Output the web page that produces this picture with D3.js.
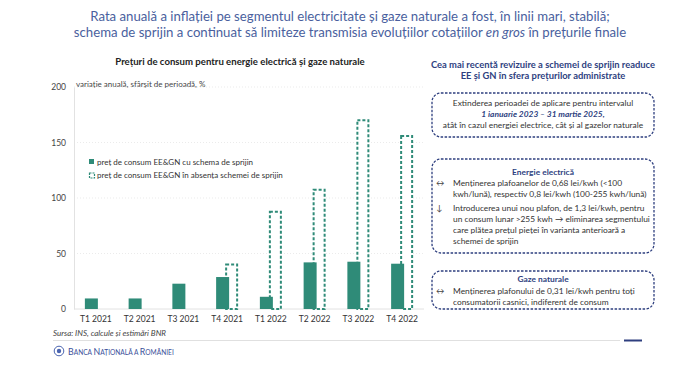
<!DOCTYPE html>
<html><head><meta charset="utf-8">
<script src="https://cdn.jsdelivr.net/npm/d3@7"></script>
<style>body{margin:0;background:#fff}svg{display:block}text{font-family:Lato,"Open Sans",sans-serif}</style>
</head><body><svg id="c" width="700" height="372"></svg>
<script>
const categories = ["T1 2021","T2 2021","T3 2021","T4 2021","T1 2022","T2 2022","T3 2022","T4 2022"];
const withScheme = [9.5, 9.5, 22.8, 28.8, 11, 42, 42.6, 40.8];
const withoutScheme = [null, null, null, 40.2, 87.7, 107.5, 170, 155.8];
const yTicks = [0, 50, 100, 150, 200];
const legendLabels = ["preț de consum EE&GN cu schema de sprijin", "preț de consum EE&GN în absența schemei de sprijin"];

const svg = d3.select("#c");
const teal = "#2f8b78", navy = "#2e3f7f", titleBlue = "#4a5f9e";

// main title
svg.append("text").attr("x",350).attr("y",21).attr("text-anchor","middle").attr("fill",titleBlue).attr("font-size",13.2)
  .text("Rata anuală a inflației pe segmentul electricitate și gaze naturale a fost, în linii mari, stabilă;");
const t2 = svg.append("text").attr("x",350).attr("y",37).attr("text-anchor","middle").attr("fill",titleBlue).attr("font-size",13.2);
t2.append("tspan").text("schema de sprijin a continuat să limiteze transmisia evoluțiilor cotațiilor ");
t2.append("tspan").attr("font-style","italic").text("en gros");
t2.append("tspan").text(" în prețurile finale");

// chart title
svg.append("text").attr("x",240).attr("y",65).attr("text-anchor","middle").attr("font-weight","bold").attr("font-size",9.6).attr("fill","#222")
  .text("Prețuri de consum pentru energie electrică și gaze naturale");
svg.append("text").attr("x",76).attr("y",87).attr("font-size",8).attr("fill","#444").text("variație anuală, sfârșit de perioadă, %");

const y = d3.scaleLinear().domain([0,200]).range([309,87]);
const x = d3.scaleBand().domain(categories).range([74,424]).paddingInner(0).paddingOuter(0);

// gridlines
svg.append("g").selectAll("line").data(yTicks.filter(d=>d>0)).join("line")
  .attr("x1",74).attr("x2",424).attr("y1",d=>y(d)).attr("y2",d=>y(d))
  .attr("stroke","#e6e6e6").attr("stroke-width",0.8).attr("stroke-dasharray","1,2");
// y axis
const ya = svg.append("g").attr("transform","translate(74,0)").call(d3.axisLeft(y).tickValues(yTicks).tickSize(0).tickPadding(8));
ya.select(".domain").attr("stroke","#e2e2e2");
ya.selectAll("text").attr("font-size",8.5).attr("fill","#444").attr("font-family","Lato");
svg.append("line").attr("x1",74).attr("x2",424).attr("y1",y(0)).attr("y2",y(0)).attr("stroke","#e2e2e2");

// x axis
const xa = svg.append("g").attr("transform","translate(0,309)").call(d3.axisBottom(x).tickSize(0).tickPadding(7));
xa.select(".domain").remove();
xa.selectAll("text").attr("font-size",8.5).attr("fill","#333").attr("font-family","Lato");

const bw = 13;
// dashed bars behind
svg.append("g").selectAll("rect").data(categories.map((c,i)=>({c,v:withoutScheme[i]})).filter(d=>d.v!=null)).join("rect")
  .attr("x",d=>x(d.c)+x.bandwidth()/2-2+1).attr("width",bw-2)
  .attr("y",d=>y(d.v)).attr("height",d=>y(0)-y(d.v))
  .attr("fill","#fff").attr("stroke",teal).attr("stroke-width",2).attr("stroke-dasharray","3,2");
// solid bars
svg.append("g").selectAll("rect").data(categories.map((c,i)=>({c,v:withScheme[i]}))).join("rect")
  .attr("x",d=>x(d.c)+x.bandwidth()/2-bw+2).attr("width",bw)
  .attr("y",d=>y(d.v)).attr("height",d=>y(0)-y(d.v)).attr("fill",teal);

// legend
svg.append("rect").attr("x",89).attr("y",159).attr("width",5).attr("height",5).attr("fill",teal);
svg.append("rect").attr("x",89.5).attr("y",173).attr("width",5).attr("height",5).attr("fill","#fff").attr("stroke",teal).attr("stroke-width",1.2).attr("stroke-dasharray","2,1");
legendLabels.forEach((l,i)=>{
  svg.append("text").attr("x",97).attr("y",164.5+i*13.5).attr("font-size",8).attr("fill","#333").text(l);
});

// source
svg.append("text").attr("x",53).attr("y",336).attr("font-size",8).attr("font-style","italic").attr("fill","#444").text("Sursa: INS, calcule și estimări BNR");
svg.append("line").attr("x1",53).attr("x2",620).attr("y1",340.5).attr("y2",340.5).attr("stroke","#d8d8d8").attr("stroke-width",0.8);
svg.append("line").attr("x1",624).attr("x2",642).attr("y1",340.5).attr("y2",340.5).attr("stroke",navy).attr("stroke-width",2);

// logo
const lg = svg.append("g").attr("transform","translate(59,351)");
lg.append("circle").attr("r",4.8).attr("fill","none").attr("stroke","#4a64b0").attr("stroke-width",1);
lg.append("circle").attr("r",2.2).attr("fill","#4a64b0");
const bt = svg.append("text").attr("x",68).attr("y",354.5).attr("fill","#3b4f9a").attr("font-family","'Liberation Serif',serif");
[["B",8.8],["ANCA ",6.6],["N",8.8],["AȚIONALĂ ",6.6],["A ",6.6],["R",8.8],["OMÂNIEI",6.6]].forEach(([s,f])=>bt.append("tspan").attr("font-size",f).text(s));

// right panel
const cx = 543;
svg.append("text").attr("x",cx).attr("y",68).attr("text-anchor","middle").attr("font-weight","bold").attr("font-size",9.4).attr("fill",navy)
  .text("Cea mai recentă revizuire a schemei de sprijin readuce");
svg.append("text").attr("x",cx).attr("y",79).attr("text-anchor","middle").attr("font-weight","bold").attr("font-size",9.4).attr("fill",navy)
  .text("EE și GN în sfera prețurilor administrate");

function box(y0,y1){
  svg.append("rect").attr("x",432).attr("y",y0).attr("width",222).attr("height",y1-y0).attr("rx",9)
    .attr("fill","none").attr("stroke",navy).attr("stroke-width",1.3).attr("stroke-dasharray","2.5,1.5");
}
box(93,137); box(159,253); box(271,309);

const tcol = "#333", fs = 8.4;
svg.append("text").attr("x",cx).attr("y",106).attr("text-anchor","middle").attr("font-size",fs).attr("fill",tcol).text("Extinderea perioadei de aplicare pentru intervalul");
svg.append("text").attr("x",cx).attr("y",117).attr("text-anchor","middle").attr("font-size",fs).attr("font-weight","bold").attr("font-style","italic").attr("fill",navy).text("1 ianuarie 2023 – 31 martie 2025,");
svg.append("text").attr("x",cx).attr("y",128).attr("text-anchor","middle").attr("font-size",fs).attr("fill",tcol).text("atât în cazul energiei electrice, cât și al gazelor naturale");

svg.append("text").attr("x",cx).attr("y",174.5).attr("text-anchor","middle").attr("font-size",fs).attr("font-weight","bold").attr("fill",navy).text("Energie electrică");
function lines(arr,y0,sym){
  svg.append("text").attr("x",436).attr("y",y0).attr("font-size",fs).attr("fill","#444").text(sym);
  arr.forEach((s,i)=>svg.append("text").attr("x",453).attr("y",y0+i*11).attr("font-size",fs).attr("fill",tcol).text(s));
}
lines(["Menținerea plafoanelor de 0,68 lei/kwh (<100","kwh/lună), respectiv 0,8 lei/kwh (100-255 kwh/lună)"],186,"↔");
lines(["Introducerea unui nou plafon, de 1,3 lei/kwh, pentru","un consum lunar >255 kwh → eliminarea segmentului","care plătea prețul pieței în varianta anterioară a","schemei de sprijin"],211,"↓");
svg.append("text").attr("x",cx).attr("y",282).attr("text-anchor","middle").attr("font-size",fs).attr("font-weight","bold").attr("fill",navy).text("Gaze naturale");
lines(["Menținerea plafonului de 0,31 lei/kwh pentru toți","consumatorii casnici, indiferent de consum"],293.5,"↔");
</script></body></html>
